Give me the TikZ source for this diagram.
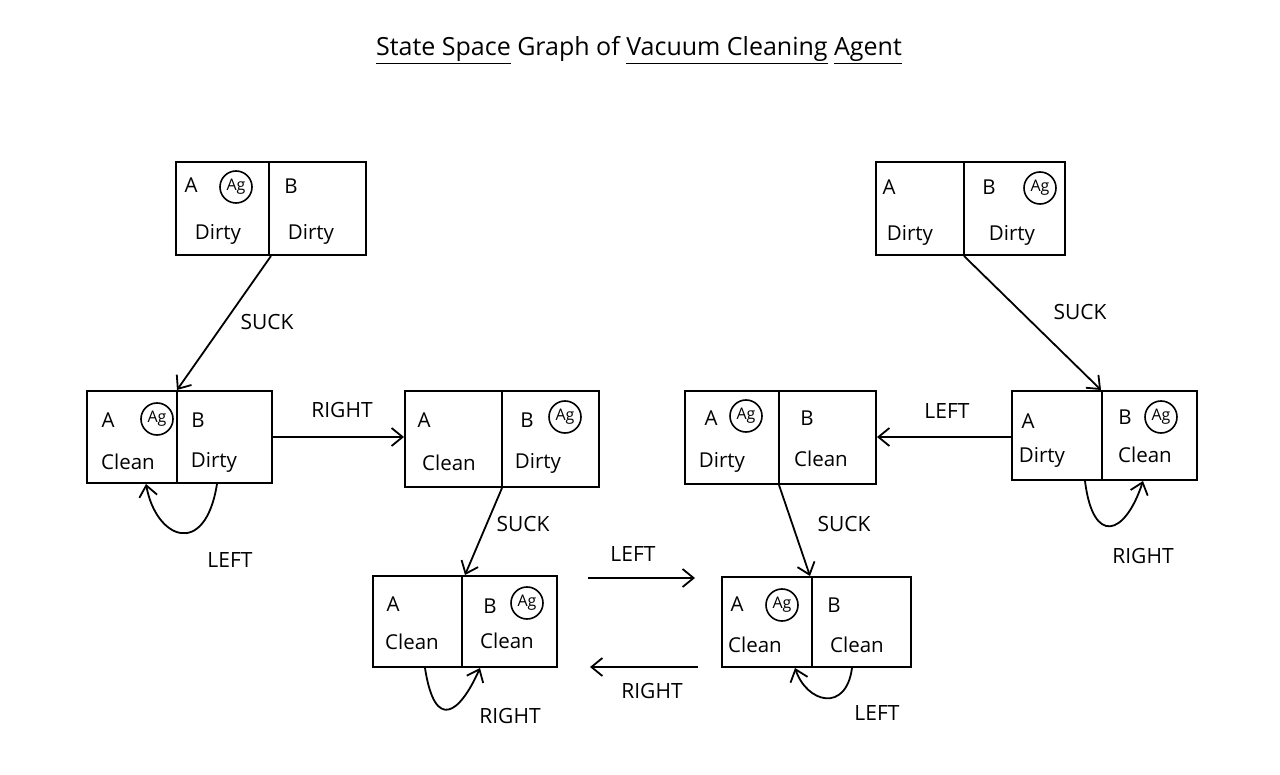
\documentclass[tikz,border=0pt]{standalone}
\usepackage{fontspec}
\setmainfont{Open Sans}
\usetikzlibrary{arrows.meta}
\begin{document}
\begin{tikzpicture}[x=1pt,y=-1pt,
  st/.style={draw, line width=2, inner sep=0},
  dv/.style={line width=2},
  tx/.style={inner sep=0, font=\fontsize{20.5}{22}\selectfont},
  ag/.style={draw, circle, line width=1.6, inner sep=0, minimum size=32, font=\fontsize{16}{16}\selectfont},
  lb/.style={inner sep=0, font=\fontsize{21}{23}\selectfont},
  arr/.style={line width=1.8, -{Straight Barb[length=11pt,width=18pt,line width=1.8pt]}}]
\useasboundingbox (0,0) rectangle (1280,775);
\fill[white] (0,0) rectangle (1280,775);

% title
\node[inner sep=0, font=\fontsize{25}{27}\selectfont] (title) at (639,50)
  {\underline{State Space} Graph of \underline{Vacuum Cleaning} \underline{Agent}};

% states
\node[st, minimum width=190, minimum height=93] (s1) at (271,208.5) {};
\node[st, minimum width=189, minimum height=93] (s2) at (970.5,208.5) {};
\node[st, minimum width=185, minimum height=92] (s3) at (179.5,437) {};
\node[st, minimum width=194, minimum height=96] (s4) at (502,439) {};
\node[st, minimum width=191, minimum height=93] (s5) at (780.5,437.5) {};
\node[st, minimum width=185, minimum height=89] (s6) at (1104.5,435.5) {};
\node[st, minimum width=184, minimum height=91] (s7) at (465,621.5) {};
\node[st, minimum width=189, minimum height=90] (s8) at (816.5,622) {};

\draw[dv] (s1.north -| 269,0) -- (s1.south -| 269,0);
\draw[dv] (s2.north -| 964,0) -- (s2.south -| 964,0);
\draw[dv] (s3.north -| 177,0) -- (s3.south -| 177,0);
\draw[dv] (s4.north -| 502,0) -- (s4.south -| 502,0);
\draw[dv] (s5.north -| 779,0) -- (s5.south -| 779,0);
\draw[dv] (s6.north -| 1102,0) -- (s6.south -| 1102,0);
\draw[dv] (s7.north -| 462,0) -- (s7.south -| 462,0);
\draw[dv] (s8.north -| 812,0) -- (s8.south -| 812,0);

% S1
\node[tx] (s1a) at (191,185) {A};
\node[ag] (s1g) at (236,187) {Ag};
\node[tx] (s1ad) at (218,234) {Dirty};
\node[tx] (s1b) at (291,186) {B};
\node[tx] (s1bd) at (311,234) {Dirty};
% S2
\node[tx] (s2a) at (889,187) {A};
\node[tx] (s2ad) at (910,235) {Dirty};
\node[tx] (s2b) at (989,187) {B};
\node[ag] (s2g) at (1040,188) {Ag};
\node[tx] (s2bd) at (1012,235) {Dirty};
% S3
\node[tx] (s3a) at (108,420) {A};
\node[ag] (s3g) at (157,419) {Ag};
\node[tx] (s3ac) at (128,462) {Clean};
\node[tx] (s3b) at (198,420) {B};
\node[tx] (s3bd) at (214,462) {Dirty};
% S4
\node[tx] (s4a) at (424,420) {A};
\node[tx] (s4ac) at (449,463) {Clean};
\node[tx] (s4b) at (527,420) {B};
\node[ag] (s4g) at (565,417) {Ag};
\node[tx] (s4bd) at (538,463) {Dirty};
% S5
\node[tx] (s5a) at (711,418) {A};
\node[ag] (s5g) at (746,416) {Ag};
\node[tx] (s5ad) at (722,462) {Dirty};
\node[tx] (s5b) at (807,418) {B};
\node[tx] (s5bc) at (821,459) {Clean};
% S6
\node[tx] (s6a) at (1028,421) {A};
\node[tx] (s6ad) at (1042,457) {Dirty};
\node[tx] (s6b) at (1125,417) {B};
\node[ag] (s6g) at (1161,417) {Ag};
\node[tx] (s6bc) at (1145,455) {Clean};
% S7
\node[tx] (s7a) at (393,604) {A};
\node[tx] (s7ac) at (412,642) {Clean};
\node[tx] (s7b) at (490,606) {B};
\node[ag] (s7g) at (527,603) {Ag};
\node[tx] (s7bc) at (507,641) {Clean};
% S8
\node[tx] (s8a) at (737,604) {A};
\node[ag] (s8g) at (782,605) {Ag};
\node[tx] (s8ac) at (755,645) {Clean};
\node[tx] (s8b) at (834,605) {B};
\node[tx] (s8bc) at (857,645) {Clean};

% transitions
\draw[arr] (s1.south -| 271,0) -- (s3.north -| 177,0);
\node[lb] (l13) at (267,322) {SUCK};
\draw[arr] (s2.south -| 964,0) -- (s6.north -| 1101,0);
\node[lb] (l26) at (1080,312) {SUCK};
\draw[arr] (s3.east) -- (s4.west |- s3.east);
\node[lb] (l34) at (342,410) {RIGHT};
\draw[arr] (s6.west |- 0,437) -- (s5.east |- 0,437);
\node[lb] (l65) at (947,411) {LEFT};
\draw[arr] (s4.south -| 502,0) -- (s7.north -| 465,0);
\node[lb] (l47) at (523,524) {SUCK};
\draw[arr] (s5.south -| 779,0) -- (s8.north -| 810,0);
\node[lb] (l58) at (844,524) {SUCK};

% middle arrows
\coordinate (m1) at (588,578);
\coordinate (m2) at (695,578);
\coordinate (m3) at (698,667);
\coordinate (m4) at (590,667);
\draw[arr] (m1) -- (m2);
\node[lb] (lm1) at (633,554) {LEFT};
\draw[arr] (m3) -- (m4);
\node[lb] (lm2) at (652,691) {RIGHT};

% self loops
\draw[arr] (s3.south -| 217,0) .. controls +(-12,75) and +(10,55) .. (s3.south -| 146,0);
\node[lb] (ll3) at (230,560) {LEFT};
\draw[arr] (s7.south -| 425,0) .. controls +(10,65) and +(-20,45) .. (s7.south -| 480,0);
\node[lb] (ll7) at (510,716) {RIGHT};
\draw[arr] (s6.south -| 1085,0) .. controls +(8,65) and +(-18,55) .. (s6.south -| 1143,0);
\node[lb] (ll6) at (1143,556) {RIGHT};
\draw[arr] (s8.south -| 852,0) .. controls +(-6,45) and +(12,35) .. (s8.south -| 795,0);
\node[lb] (ll8) at (877,713) {LEFT};
\end{tikzpicture}
\end{document}
